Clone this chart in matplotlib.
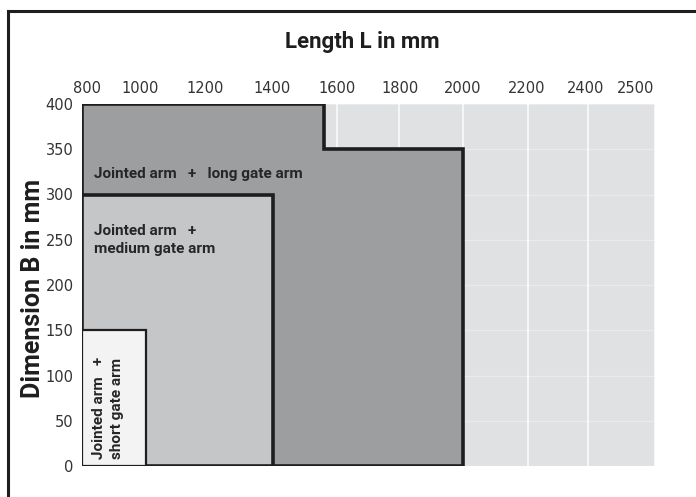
import numpy as np
import matplotlib
matplotlib.use("Agg")
import matplotlib.pyplot as plt
from matplotlib.patches import Polygon
from matplotlib.lines import Line2D
import matplotlib.transforms as mtransforms

# ---- data ----
x_ticks = [800, 1000, 1200, 1400, 1600, 1800, 2000, 2200, 2400, 2500]
x_tick_labels = ["800", "1000", "1200", "1400", "1600", "1800", "2000", "2200", "2400", "2500"]
y_ticks = [0, 50, 100, 150, 200, 250, 300, 350, 400]

# regions: outline vertices in (L, B)
long_L = [800, 800, 1560, 1560, 2000, 2000]
long_B = [0, 400, 400, 350, 350, 0]
medium_L = [800, 800, 1400, 1400]
medium_B = [0, 300, 300, 0]
short_L = [800, 800, 1000, 1000]
short_B = [0, 150, 150, 0]

# irregular axis positions of the original (relative units)
axis_pos = [82, 146, 207, 273, 337, 399, 463, 528, 588, 655]
label_shift_px = [5, -6, -2, -1, 0, 1, 0, -1, -2, -19]

fwd = lambda v: np.interp(v, x_ticks, axis_pos)
inv = lambda p: np.interp(p, axis_pos, x_ticks)

W, H = 696, 497
fig = plt.figure(figsize=(W / 100, H / 100), dpi=100)
ax = fig.add_axes([82 / W, (H - 466) / H, (655 - 82) / W, (466 - 104) / H])
ax.set_xscale("function", functions=(fwd, inv))
ax.set_xlim(800, 2500)
ax.set_ylim(0, 400)
ax.set_facecolor("#e0e1e3")
for s in ax.spines.values():
    s.set_visible(False)

ax.set_xticks(x_ticks)
ax.set_xticklabels(x_tick_labels)
ax.set_yticks(y_ticks)
ax.xaxis.tick_top()
ax.tick_params(axis="both", length=0, labelsize=10.5, labelcolor="#333333")
ax.tick_params(axis="x", pad=6)
ax.tick_params(axis="y", pad=6)
narrow = ["Liberation Sans Narrow", "DejaVu Sans"]
for lab, dx in zip(ax.get_xticklabels(), label_shift_px):
    lab.set_family(narrow)
    lab.set_transform(lab.get_transform() + mtransforms.ScaledTranslation(dx / 100, 0, fig.dpi_scale_trans))
for lab in ax.get_yticklabels():
    lab.set_family(narrow)

ax.xaxis.grid(True, color="white", linewidth=1.2, alpha=0.85)
ax.yaxis.grid(True, color="white", linewidth=1.0, alpha=0.35)
ax.set_axisbelow(True)

def region(Ls, Bs, face, lw, z):
    pts = np.column_stack([Ls, Bs])
    ax.add_patch(Polygon(pts, closed=True, facecolor=face, edgecolor="#1e1e1e",
                         linewidth=lw, zorder=z, joinstyle="miter"))

region(long_L, long_B, "#9d9ea0", 2.6, 3)
region(medium_L, medium_B, "#c5c6c8", 2.6, 4)
region(short_L, short_B, "#f3f3f3", 1.6, 5)

bold = ["Roboto", "DejaVu Sans"]
tc = "#262626"
ax.text(836, 323, "Jointed arm   +   long gate arm", family=bold, weight="bold",
        fontsize=11, color=tc, va="center", ha="left", zorder=6)
ax.text(836, 250, "Jointed arm   +\nmedium gate arm", family=bold, weight="bold",
        fontsize=11, color=tc, va="center", ha="left", zorder=6, linespacing=1.4)
ax.text(882, 8, "Jointed arm   +\nshort gate arm", family=bold, weight="bold",
        fontsize=11, color=tc, va="bottom", ha="center", rotation=90, zorder=6,
        linespacing=1.4, multialignment="left")

fig.text(362 / W, 1 - 42 / H, "Length L in mm", family=bold, weight="bold",
         fontsize=16, color="#1e1e1e", ha="center", va="center")
fig.text(33 / W, 1 - 288 / H, "Dimension B in mm", family=bold, weight="bold",
         fontsize=18, color="#1e1e1e", ha="center", va="center", rotation=90)

# outer frame (top and left)
fig.add_artist(Line2D([8 / W, 1], [1 - 11 / H, 1 - 11 / H], transform=fig.transFigure,
                      color="#1e1e1e", linewidth=2.2))
fig.add_artist(Line2D([8 / W, 8 / W], [0, 1 - 11 / H], transform=fig.transFigure,
                      color="#1e1e1e", linewidth=2.2))

fig.savefig("out.png", dpi=100, facecolor="white")
